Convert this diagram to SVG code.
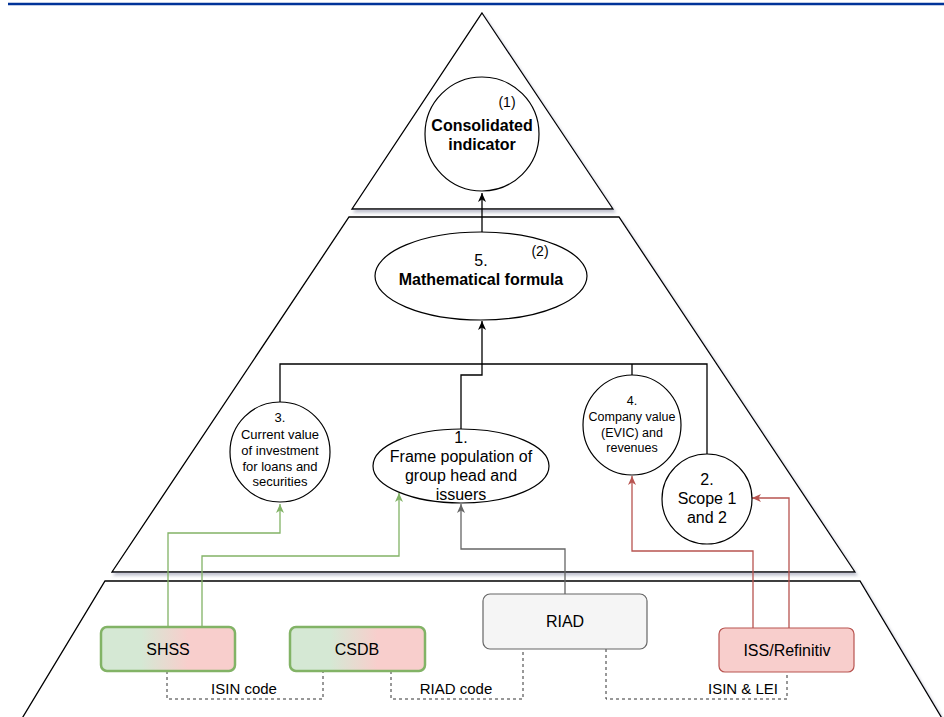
<svg xmlns="http://www.w3.org/2000/svg" width="944" height="717" viewBox="0 0 944 717">
<style>
text{font-family:"Liberation Sans",Arial,sans-serif;fill:#000;text-anchor:middle}
.pyr{fill:#fff;stroke:#000;stroke-width:1.3;filter:url(#sh)}
.node{fill:#fff;stroke:#000;stroke-width:1.2}
.e{fill:none;stroke-width:1.3}
.k{stroke:#000}
.g{stroke:#82b366}
.gr{stroke:#666}
.r{stroke:#b85450}
.d{fill:none;stroke:#333;stroke-width:1;stroke-dasharray:3 3}
.b{font-weight:bold;font-size:16px}
.s13{font-size:13px}
.s12{font-size:12.5px}
.s16{font-size:16px}
.s14{font-size:14px}
.s15{font-size:15px}
</style>
<defs>
<filter id="sh" x="-10%" y="-10%" width="120%" height="130%">
<feDropShadow dx="2" dy="3" stdDeviation="1.5" flood-color="#7a7f9a" flood-opacity="0.45"/>
</filter>
<linearGradient id="gr1" x1="0" y1="0" x2="1" y2="0">
<stop offset="0.3" stop-color="#d5e8d4"/>
<stop offset="0.65" stop-color="#f8cecc"/>
</linearGradient>
<marker id="ak" markerUnits="userSpaceOnUse" markerWidth="10" markerHeight="10" viewBox="0 0 10 10" refX="9" refY="5" orient="auto"><path d="M0,1 L9,5 L0,9 L2.5,5 z" fill="#000"/></marker>
<marker id="ag" markerUnits="userSpaceOnUse" markerWidth="10" markerHeight="10" viewBox="0 0 10 10" refX="9" refY="5" orient="auto"><path d="M0,1 L9,5 L0,9 L2.5,5 z" fill="#82b366"/></marker>
<marker id="agr" markerUnits="userSpaceOnUse" markerWidth="10" markerHeight="10" viewBox="0 0 10 10" refX="9" refY="5" orient="auto"><path d="M0,1 L9,5 L0,9 L2.5,5 z" fill="#666"/></marker>
<marker id="ar" markerUnits="userSpaceOnUse" markerWidth="10" markerHeight="10" viewBox="0 0 10 10" refX="9" refY="5" orient="auto"><path d="M0,1 L9,5 L0,9 L2.5,5 z" fill="#b85450"/></marker>
</defs>
<rect width="944" height="717" fill="#fff"/>
<line x1="8" y1="4" x2="944" y2="4" stroke="#003399" stroke-width="2.6"/>

<g id="pyramid">
<polygon class="pyr" points="482,13 613,209 352,209"/>
<polygon class="pyr" points="349,217 619,217 855,572 112,572"/>
<polygon class="pyr" points="105,581 860,581 952,735 12,735"/>
</g>

<g id="connectors">
<path class="e k" d="M482,232 V193" marker-end="url(#ak)"/>
<path class="e k" d="M280,402 V364 H707 V454"/>
<path class="e k" d="M632,375 V364"/>
<path class="e k" d="M461,429 V375 H482 V321" marker-end="url(#ak)"/>
<path class="e g" d="M168,627 V533 H280 V504" marker-end="url(#ag)"/>
<path class="e g" d="M202,627 V556 H399 V493" marker-end="url(#ag)"/>
<path class="e gr" d="M565,594 V549 H461 V504" marker-end="url(#agr)"/>
<path class="e r" d="M753,628 V551 H632 V476" marker-end="url(#ar)"/>
<path class="e r" d="M789,628 V498 H752" marker-end="url(#ar)"/>
<path class="d" d="M167,671 V699 H323 V671"/>
<path class="d" d="M391,671 V699 H523 V649"/>
<path class="d" d="M606,649 V699 H787 V672"/>
<text class="s15" x="244" y="694">ISIN code</text>
<text class="s15" x="456" y="694">RIAD code</text>
<text class="s15" x="743" y="694">ISIN &amp; LEI</text>
</g>

<g id="n-consolidated">
<circle class="node" cx="482" cy="134" r="57"/>
<text class="s14" x="507" y="107">(1)</text>
<text class="b" x="482" y="131">Consolidated</text>
<text class="b" x="482" y="150">indicator</text>
</g>

<g id="n5">
<ellipse class="node" cx="481" cy="276" rx="106" ry="44"/>
<text class="s14" x="540" y="256">(2)</text>
<text class="s16" x="481" y="266">5.</text>
<text class="b" x="481" y="285">Mathematical formula</text>
</g>

<g id="n3">
<circle class="node" cx="280" cy="452" r="50"/>
<text class="s13" x="280" y="422">3.</text>
<text class="s13" x="280" y="439">Current value</text>
<text class="s13" x="280" y="455">of investment</text>
<text class="s13" x="280" y="471">for loans and</text>
<text class="s13" x="280" y="486">securities</text>
</g>

<g id="n1">
<ellipse class="node" cx="461" cy="466" rx="88" ry="37"/>
<text class="s16" x="461" y="443">1.</text>
<text class="s16" x="461" y="462">Frame population of</text>
<text class="s16" x="461" y="481">group head and</text>
<text class="s16" x="461" y="500">issuers</text>
</g>

<g id="n4">
<ellipse class="node" cx="632" cy="425" rx="49" ry="50"/>
<text class="s12" x="632" y="405">4.</text>
<text class="s12" x="632" y="421">Company value</text>
<text class="s12" x="632" y="437">(EVIC) and</text>
<text class="s12" x="632" y="452">revenues</text>
</g>

<g id="n2">
<circle class="node" cx="707" cy="499" r="45"/>
<text class="s16" x="707" y="485">2.</text>
<text class="s16" x="707" y="504">Scope 1</text>
<text class="s16" x="707" y="523">and 2</text>
</g>

<g id="shss">
<rect x="101" y="627" width="134" height="44" rx="6" fill="url(#gr1)" stroke="#82b366" stroke-width="2.5"/>
<text class="s16" x="168" y="655">SHSS</text>
</g>
<g id="csdb">
<rect x="290" y="627" width="135" height="44" rx="6" fill="url(#gr1)" stroke="#82b366" stroke-width="2.5"/>
<text class="s16" x="357" y="655">CSDB</text>
</g>
<g id="riad">
<rect x="483" y="594" width="164" height="55" rx="7" fill="#f5f5f5" stroke="#666" stroke-width="1.2"/>
<text class="s16" x="565" y="627">RIAD</text>
</g>
<g id="iss">
<rect x="719" y="628" width="135" height="44" rx="6" fill="#f8cecc" stroke="#b85450" stroke-width="1.2"/>
<text class="s16" x="787" y="656">ISS/Refinitiv</text>
</g>
</svg>
